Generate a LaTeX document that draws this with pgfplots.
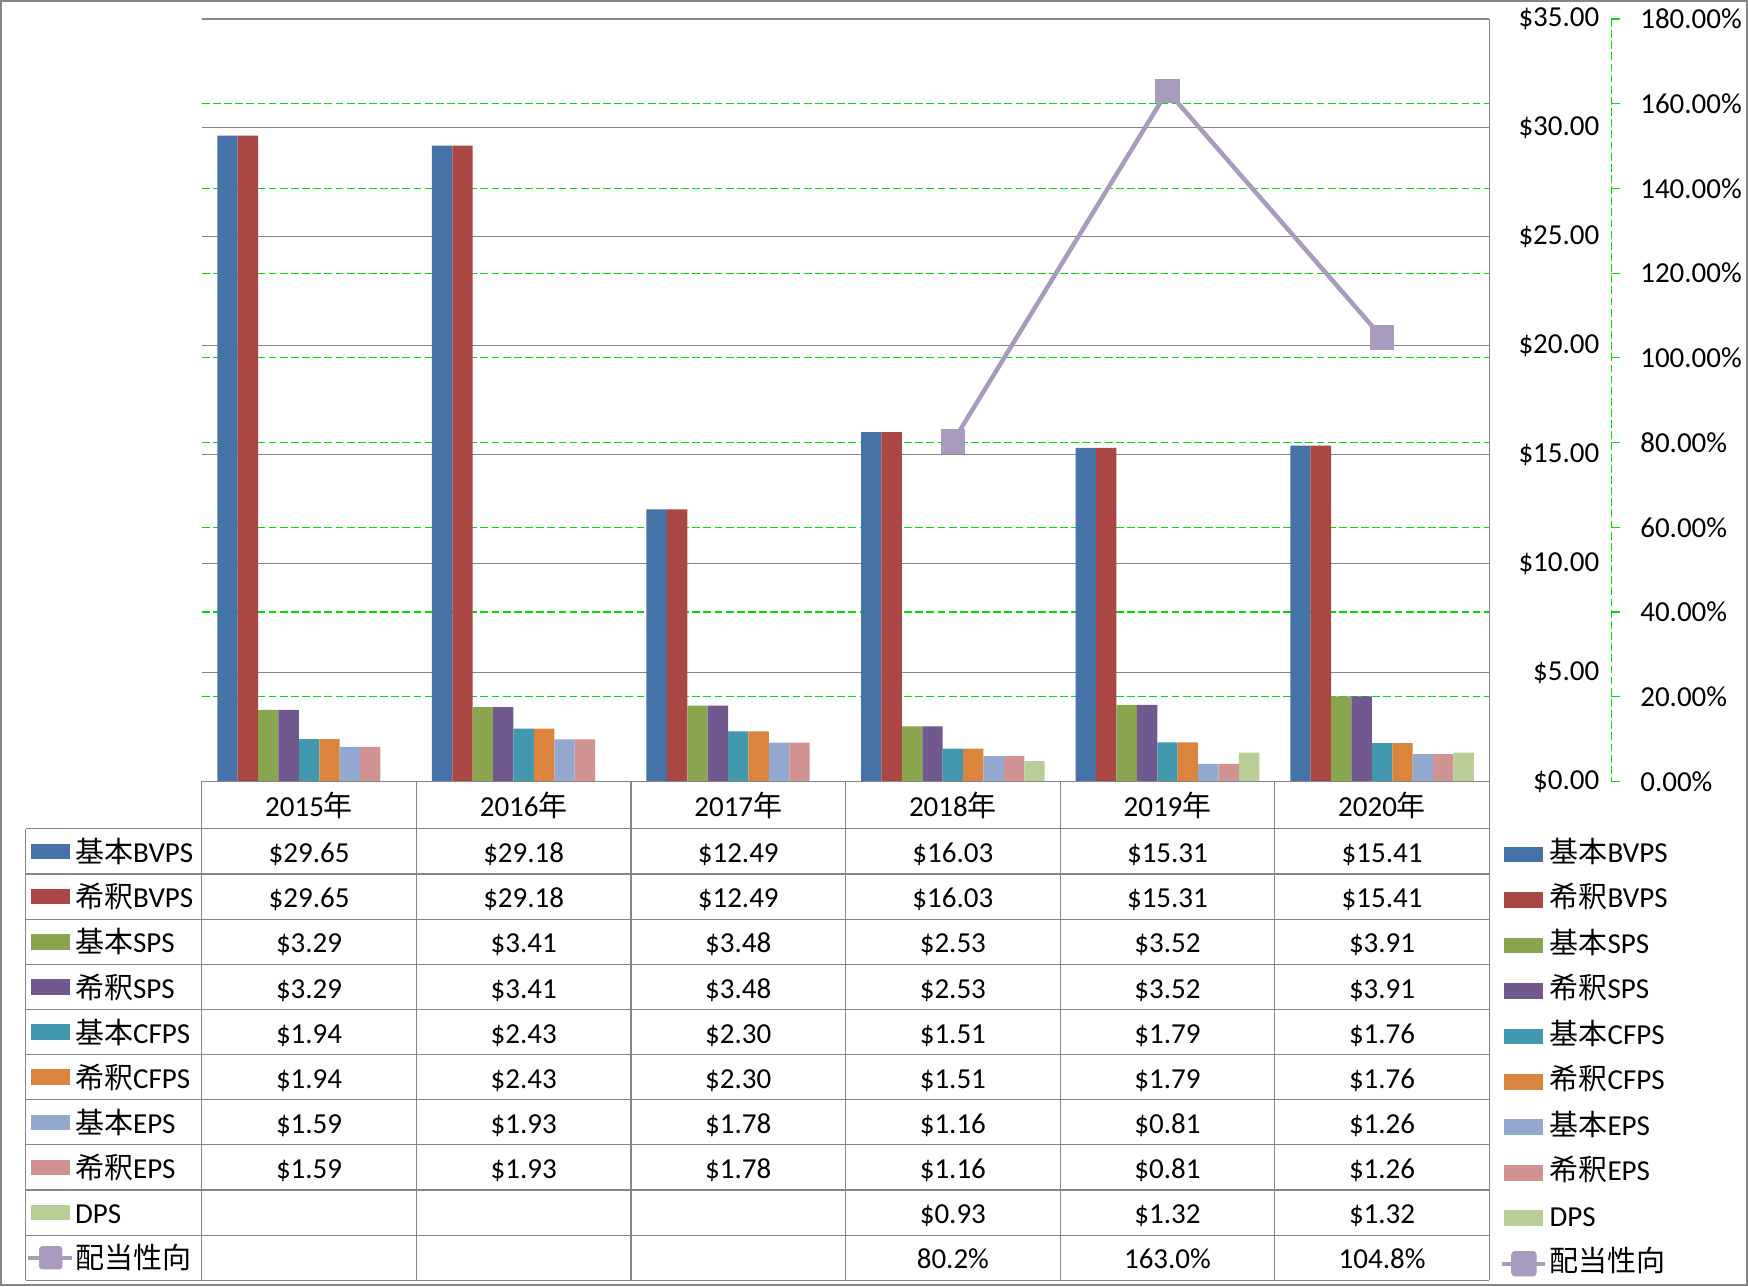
\documentclass[border=0pt]{standalone}
\usepackage{pgfplots}
\pgfplotsset{compat=1.18}
\usepackage{pgfplotstable}
\usepackage{fontspec}
\setmainfont{Carlito}
\newfontfamily\cjk{Noto Sans CJK JP}

\definecolor{c1}{HTML}{4572A7}
\definecolor{c2}{HTML}{AA4643}
\definecolor{c3}{HTML}{89A54E}
\definecolor{c4}{HTML}{71588F}
\definecolor{c5}{HTML}{4198AF}
\definecolor{c6}{HTML}{DB843D}
\definecolor{c7}{HTML}{93A9CF}
\definecolor{c8}{HTML}{D19392}
\definecolor{c9}{HTML}{B9CD96}
\definecolor{c10}{HTML}{A99BBD}
\definecolor{gridgray}{HTML}{868686}
\definecolor{gridgreen}{HTML}{00E000}

\newcommand\fnt{\fontsize{13pt}{15.6pt}\selectfont}

% x = category centre (2015 ... 2020)
\pgfplotstableread{
x   bbvps dbvps bsps dsps bcfps dcfps beps deps
0.5 29.65 29.65 3.29 3.29 1.94  1.94  1.59 1.59
1.5 29.18 29.18 3.41 3.41 2.43  2.43  1.93 1.93
2.5 12.49 12.49 3.48 3.48 2.30  2.30  1.78 1.78
3.5 16.03 16.03 2.53 2.53 1.51  1.51  1.16 1.16
4.5 15.31 15.31 3.52 3.52 1.79  1.79  0.81 0.81
5.5 15.41 15.41 3.91 3.91 1.76  1.76  1.26 1.26
}\pershare
\pgfplotstableread{
x   dps  payout
3.5 0.93 80.2
4.5 1.32 163.0
5.5 1.32 104.8
}\dividend

\pgfplotsset{
  swatch/.style={legend image code/.code={\fill[#1] (0pt,-3.5pt) rectangle (17.5pt,3.5pt);}},
  frame/.style={at={(90.5pt,226.5pt)}, anchor=south west,
    scale only axis, width=577.5pt, height=342pt,
    xmin=0, xmax=6, axis line style={draw=none},
    xtick=\empty, major tick length=0pt,
    /pgf/number format/assume math mode=true},
  pctaxis/.style={frame, ymin=0, ymax=180, ytick={0,20,...,180}},
}

% one row of the data table's key: centre y, colour, label
\newcommand{\tabkey}[3]{%
  \fill[#2] (28,#1-7) rectangle (63,#1+7);
  \node[anchor=base west, inner sep=0pt] at (67,#1+10) {#3};}

\begin{document}
\begin{tikzpicture}[font=\fnt]

% percent axis: green grid and labels
\begin{axis}[
  pctaxis,
  yticklabel pos=right,
  ymajorgrids,
  grid style={color=gridgreen, line width=0.5pt, dash pattern=on 3.5pt off 1.5pt},
  yticklabel={\pgfmathprintnumber[fixed,fixed zerofill,precision=2]{\tick}\%},
  yticklabel style={anchor=west, inner sep=0pt, xshift=67.5pt, font=\fnt},
]
\addplot[draw=none, mark=none] table[x=x, y=payout] {\dividend};
\end{axis}

% per-share values
\begin{axis}[
  frame, ymin=0, ymax=35, ytick={0,5,...,35},
  yticklabel pos=right,
  ymajorgrids,
  grid style={color=gridgray, line width=0.5pt},
  yticklabel={\$\pgfmathprintnumber[fixed,fixed zerofill,precision=2]{\tick}},
  yticklabel style={anchor=east, inner sep=0pt, xshift=49.5pt, font=\fnt},
  ybar=0pt, bar width=9.15pt,
  legend style={at={(axis description cs:1.0078,-0.0658)}, anchor=north west,
    draw=none, fill=none, inner sep=0pt, outer sep=0pt, row sep=0pt, column sep=1pt, font=\fnt,
    nodes={inner sep=0pt, text height=9pt, text depth=2pt, minimum height=20.4pt}},
  legend cell align=left,
]
\addplot[fill=c1, draw=none, bar shift=-36.6pt, swatch=c1] table[x=x, y=bbvps] {\pershare};
\addlegendentry{{\cjk 基本}BVPS}
\addplot[fill=c2, draw=none, bar shift=-27.45pt, swatch=c2] table[x=x, y=dbvps] {\pershare};
\addlegendentry{{\cjk 希釈}BVPS}
\addplot[fill=c3, draw=none, bar shift=-18.3pt, swatch=c3] table[x=x, y=bsps] {\pershare};
\addlegendentry{{\cjk 基本}SPS}
\addplot[fill=c4, draw=none, bar shift=-9.15pt, swatch=c4] table[x=x, y=dsps] {\pershare};
\addlegendentry{{\cjk 希釈}SPS}
\addplot[fill=c5, draw=none, bar shift=0pt, swatch=c5] table[x=x, y=bcfps] {\pershare};
\addlegendentry{{\cjk 基本}CFPS}
\addplot[fill=c6, draw=none, bar shift=9.15pt, swatch=c6] table[x=x, y=dcfps] {\pershare};
\addlegendentry{{\cjk 希釈}CFPS}
\addplot[fill=c7, draw=none, bar shift=18.3pt, swatch=c7] table[x=x, y=beps] {\pershare};
\addlegendentry{{\cjk 基本}EPS}
\addplot[fill=c8, draw=none, bar shift=27.45pt, swatch=c8] table[x=x, y=deps] {\pershare};
\addlegendentry{{\cjk 希釈}EPS}
\addplot[fill=c9, draw=none, bar shift=36.6pt, swatch=c9] table[x=x, y=dps] {\dividend};
\addlegendentry{DPS}
\addlegendimage{legend image code/.code={
  \draw[c10, line width=2pt] (-1pt,0pt) -- (18.5pt,0pt);
  \fill[c10, rounded corners=1.5pt] (3.5pt,-5.5pt) rectangle (14.5pt,5.5pt);}}
\addlegendentry{{\cjk 配当性向}}
\end{axis}

% payout ratio line on top
\begin{axis}[pctaxis, yticklabels={}]
\addplot[c10, line width=2pt, mark=square*, mark size=5.2pt,
  mark options={fill=c10, draw=c10, line width=0.6pt, rounded corners=1.5pt, solid}]
  table[x=x, y=payout] {\dividend};
\end{axis}

% data table, secondary axis line, frame (coordinates in px of the reference, y down)
\begin{scope}[x=0.5pt, y=-0.5pt, shift={(0pt,577pt)}]
  \draw[gridgreen, line width=0.5pt, dash pattern=on 3.5pt off 1.5pt] (1445.5,17) -- (1445.5,701);
  \foreach \k in {0,...,9}
    \draw[gridgreen, line width=0.5pt] (1445.5,{701-76*\k}) -- (1453,{701-76*\k});

  \begin{scope}[gridgray, line width=0.5pt]
    \draw (181,701) -- (1336,701);
    \foreach \yy in {743.5,784,824.5,865,905.5,946,986.5,1027,1067.5,1108,1148.5}
      \draw (23,\yy) -- (1336,\yy);
    \draw (23,743.5) -- (23,1148.5);
    \foreach \xx in {181,373.5,566,758.5,951,1143.5}
      \draw (\xx,701) -- (\xx,1148.5);
    \draw (1336,17) -- (1336,1148.5);
  \end{scope}

  % header
  \foreach \yr [count=\i] in {2015,2016,2017,2018,2019,2020}
    \node[anchor=base, inner sep=0pt] at ({84.75+192.5*\i},732.5) {\yr{\cjk 年}};

  % values
  \foreach \v [count=\i] in {29.65,29.18,12.49,16.03,15.31,15.41} {
    \node[anchor=base, inner sep=0pt] at ({84.75+192.5*\i},773.75) {\$\v};
    \node[anchor=base, inner sep=0pt] at ({84.75+192.5*\i},814.25) {\$\v};}
  \foreach \v [count=\i] in {3.29,3.41,3.48,2.53,3.52,3.91} {
    \node[anchor=base, inner sep=0pt] at ({84.75+192.5*\i},854.75) {\$\v};
    \node[anchor=base, inner sep=0pt] at ({84.75+192.5*\i},895.25) {\$\v};}
  \foreach \v [count=\i] in {1.94,2.43,2.30,1.51,1.79,1.76} {
    \node[anchor=base, inner sep=0pt] at ({84.75+192.5*\i},935.75) {\$\v};
    \node[anchor=base, inner sep=0pt] at ({84.75+192.5*\i},976.25) {\$\v};}
  \foreach \v [count=\i] in {1.59,1.93,1.78,1.16,0.81,1.26} {
    \node[anchor=base, inner sep=0pt] at ({84.75+192.5*\i},1016.75) {\$\v};
    \node[anchor=base, inner sep=0pt] at ({84.75+192.5*\i},1057.25) {\$\v};}
  \foreach \v [count=\i from 4] in {0.93,1.32,1.32}
    \node[anchor=base, inner sep=0pt] at ({84.75+192.5*\i},1097.75) {\$\v};
  \foreach \v [count=\i from 4] in {80.2,163.0,104.8}
    \node[anchor=base, inner sep=0pt] at ({84.75+192.5*\i},1138.25) {\v\%};

  % keys
  \tabkey{763.75}{c1}{{\cjk 基本}BVPS}
  \tabkey{804.25}{c2}{{\cjk 希釈}BVPS}
  \tabkey{844.75}{c3}{{\cjk 基本}SPS}
  \tabkey{885.25}{c4}{{\cjk 希釈}SPS}
  \tabkey{925.75}{c5}{{\cjk 基本}CFPS}
  \tabkey{966.25}{c6}{{\cjk 希釈}CFPS}
  \tabkey{1006.75}{c7}{{\cjk 基本}EPS}
  \tabkey{1047.25}{c8}{{\cjk 希釈}EPS}
  \tabkey{1087.75}{c9}{DPS}
  \draw[c10, line width=2pt] (25.5,1128.25) -- (65,1128.25);
  \fill[c10, rounded corners=1.5pt] (35,1117.75) rectangle (56,1138.75);
  \node[anchor=base west, inner sep=0pt] at (67,1138.25) {{\cjk 配当性向}};

  \draw[gridgray, line width=1pt] (1,1) rectangle (1567,1153);
\end{scope}
\end{tikzpicture}
\end{document}
